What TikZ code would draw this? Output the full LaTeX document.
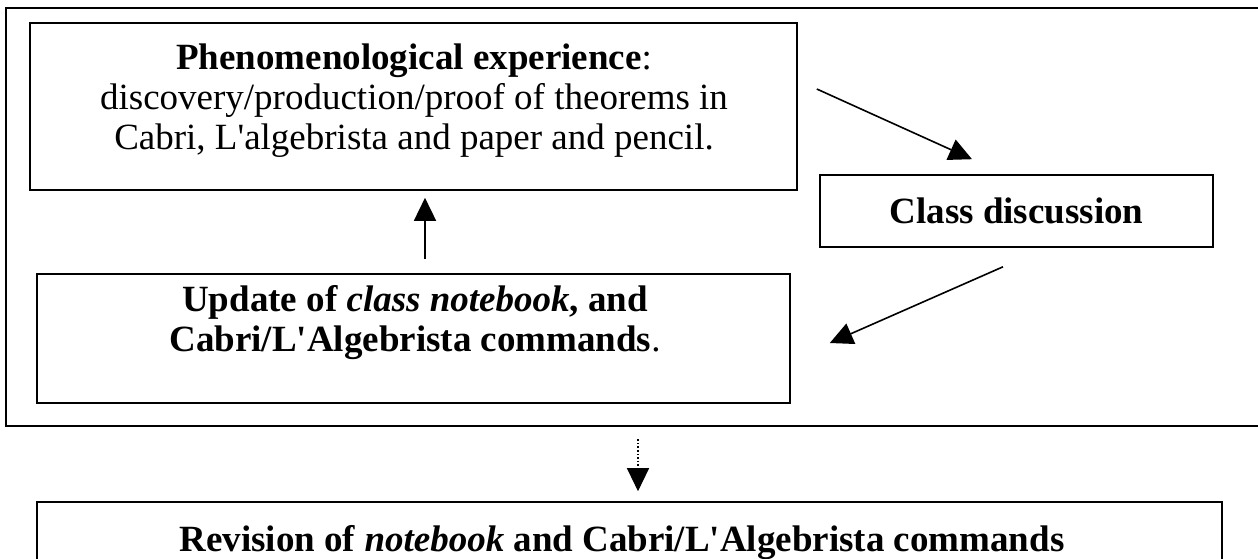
\documentclass[tikz,border=0pt]{standalone}
\usepackage{fontspec}
\setmainfont{Liberation Serif}
\usetikzlibrary{arrows.meta, positioning}
\newcommand{\apos}{\textquotesingle}
\tikzset{box/.style = {draw, line width=1.6pt},
         txt/.style = {inner sep=0pt, font=\fontsize{37}{40}\selectfont},
         arr/.style = {line width=1.6pt, -{Triangle[length=23pt, width=22pt]}}}

\begin{document}
\begin{tikzpicture}[x=1pt, y=-1pt]
    \useasboundingbox (0,0) rectangle (1258,558);
    % outer frame
    \draw[line width=1.6pt] (6,8) rectangle (1280,426);
    \node[box, minimum width=767pt, minimum height=167pt] (phen) at (413.5,106.5) {};
    \node[txt, align=center] (phentext) at (414,101)
        {\textbf{Phenomenological experience}:\\
         discovery/production/proof of theorems in\\
         Cabri, L\apos algebrista and paper and pencil.};
    \node[box, txt, minimum width=393pt, minimum height=72pt] (class) at (1016.5,211)
        {\textbf{Class discussion}};
    \node[box, minimum width=753pt, minimum height=129pt] (update) at (413.5,338.5) {};
    \node[txt, align=center] (updatetext) at (415,323)
        {\textbf{Update of \textit{class notebook}, and}\\
         \textbf{Cabri/L\apos Algebrista commands}.};
    \node[box, minimum width=1185pt, minimum height=80pt] (rev) at (629.5,542) {};
    \node[txt] (revtext) at (622,543)
        {\textbf{Revision of \textit{notebook} and Cabri/L\apos Algebrista commands}};
    % arrows
    \draw[arr] ([xshift=11.5pt, yshift=14pt]update.north) -- ([xshift=11.5pt, yshift=-7pt]phen.south);
    \draw[arr] ([xshift=19pt, yshift=17.5pt]phen.east) -- ([xshift=-44.5pt, yshift=15pt]class.north);
    \draw[arr] ([xshift=-13.5pt, yshift=-19pt]class.south) -- ([xshift=39pt, yshift=-4.5pt]update.east);
    \draw[arr, dotted, line width=1.2pt] ([xshift=8.5pt, yshift=62pt]rev.north) -- ([xshift=8.5pt, yshift=10pt]rev.north);
\end{tikzpicture}
\end{document}
